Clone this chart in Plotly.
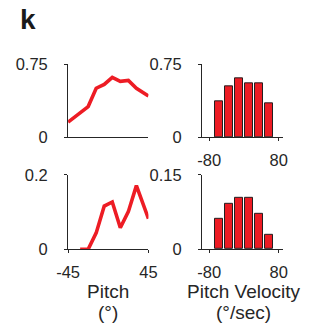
import plotly.graph_objects as go

# Pitch tuning curves (left column) and pitch-velocity histograms (right column)
pitch_deg = [-45, -31.5, -22.5, -13.5, -4.5, 4.5, 13.5, 22.5, 31.5, 45]
pitch_top = [0.157, 0.247, 0.317, 0.505, 0.544, 0.617, 0.576, 0.585, 0.505, 0.424]
pitch_bottom = [None, 0.0, 0.0, 0.044, 0.116, 0.127, 0.058, 0.101, 0.171, 0.082]

velocity_centers = [-57.5, -34.5, -11.5, 11.5, 34.5, 57.5]
velocity_top = [0.367, 0.523, 0.607, 0.552, 0.552, 0.351]
velocity_bottom = [0.061, 0.092, 0.104, 0.104, 0.071, 0.029]

pitch_ticks = [-45, 45]
velocity_ticks = [-80, 80]

W, H = 321, 333
RED = "#ED1C24"
INK = "#262626"
FONT = "Liberation Sans, Arial, sans-serif"


def px_x(a, b):
    return [a / W, b / W]


def px_y(top, bottom):
    return [(H - bottom) / H, (H - top) / H]


fig = go.Figure()

fig.add_trace(go.Scatter(x=pitch_deg, y=pitch_top, mode="lines",
                         line=dict(color=RED, width=3.6), xaxis="x", yaxis="y"))
fig.add_trace(go.Bar(x=velocity_centers, y=velocity_top, width=19.3,
                     marker=dict(color=RED, line=dict(color="#231F20", width=1)),
                     xaxis="x2", yaxis="y2"))
fig.add_trace(go.Scatter(x=pitch_deg, y=pitch_bottom, mode="lines",
                         line=dict(color=RED, width=3.6), xaxis="x3", yaxis="y3"))
fig.add_trace(go.Bar(x=velocity_centers, y=velocity_bottom, width=19.3,
                     marker=dict(color=RED, line=dict(color="#231F20", width=1)),
                     xaxis="x4", yaxis="y4"))

tickfont = dict(family=FONT, size=16.5, color=INK)
common = dict(showline=True, linecolor=INK, linewidth=1, showgrid=False,
              zeroline=False, tickfont=tickfont, fixedrange=True)


def xax(domain, rng, anchor, ticks=None):
    d = dict(common, domain=domain, range=rng, anchor=anchor)
    if ticks is None:
        d.update(showticklabels=False, ticks="")
    else:
        d.update(tickmode="array", tickvals=ticks, ticktext=[str(t) for t in ticks],
                 ticks="outside", ticklen=3, tickwidth=1, tickcolor=INK,
                 ticklabelstandoff=5)
    return d


def yax(domain, top, anchor, toptext):
    return dict(common, domain=domain, range=[0, top], anchor=anchor,
                tickmode="array", tickvals=[0, top], ticktext=["0", toptext],
                ticks="outside", ticklen=3, tickwidth=1, tickcolor=INK,
                ticklabelstandoff=13)


left = px_x(60, 146)
right = px_x(203.3, 290)
top_row = px_y(58.5, 135.8)
bot_row = px_y(175.3, 254)

fig.update_layout(
    width=W, height=H,
    margin=dict(l=0, r=0, t=0, b=0),
    paper_bgcolor="white", plot_bgcolor="white",
    showlegend=False, bargap=0,
    xaxis=xax(left, [-45, 45], "y"),
    yaxis=yax(top_row, 0.75, "x", "0.75"),
    xaxis2=xax(right, [-96.5, 90], "y2", velocity_ticks),
    yaxis2=yax(top_row, 0.75, "x2", "0.75"),
    xaxis3=xax(left, [-45, 45], "y3", pitch_ticks),
    yaxis3=yax(bot_row, 0.2, "x3", "0.2"),
    xaxis4=xax(right, [-96.5, 90], "y4", velocity_ticks),
    yaxis4=yax(bot_row, 0.15, "x4", "0.15"),
)

titlefont = dict(family=FONT, size=19, color=INK)
titles = [("Pitch", "(°)", 103), ("Pitch Velocity", "(°/sec)", 248)]
for name, unit, cx in titles:
    for text, cy in ((name, 299), (unit, 321)):
        fig.add_annotation(text=text, x=cx / W, y=1 - cy / H,
                           xref="paper", yref="paper", xanchor="center",
                           yanchor="middle", showarrow=False, font=titlefont,
                           borderpad=0)
fig.add_annotation(text="<b>k</b>", x=6 / W, y=1 + 7 / H,
                   xref="paper", yref="paper", xanchor="left", yanchor="top",
                   showarrow=False,
                   font=dict(family=FONT, size=28, color="#1a1a1a"))

fig.write_html("out.html")
